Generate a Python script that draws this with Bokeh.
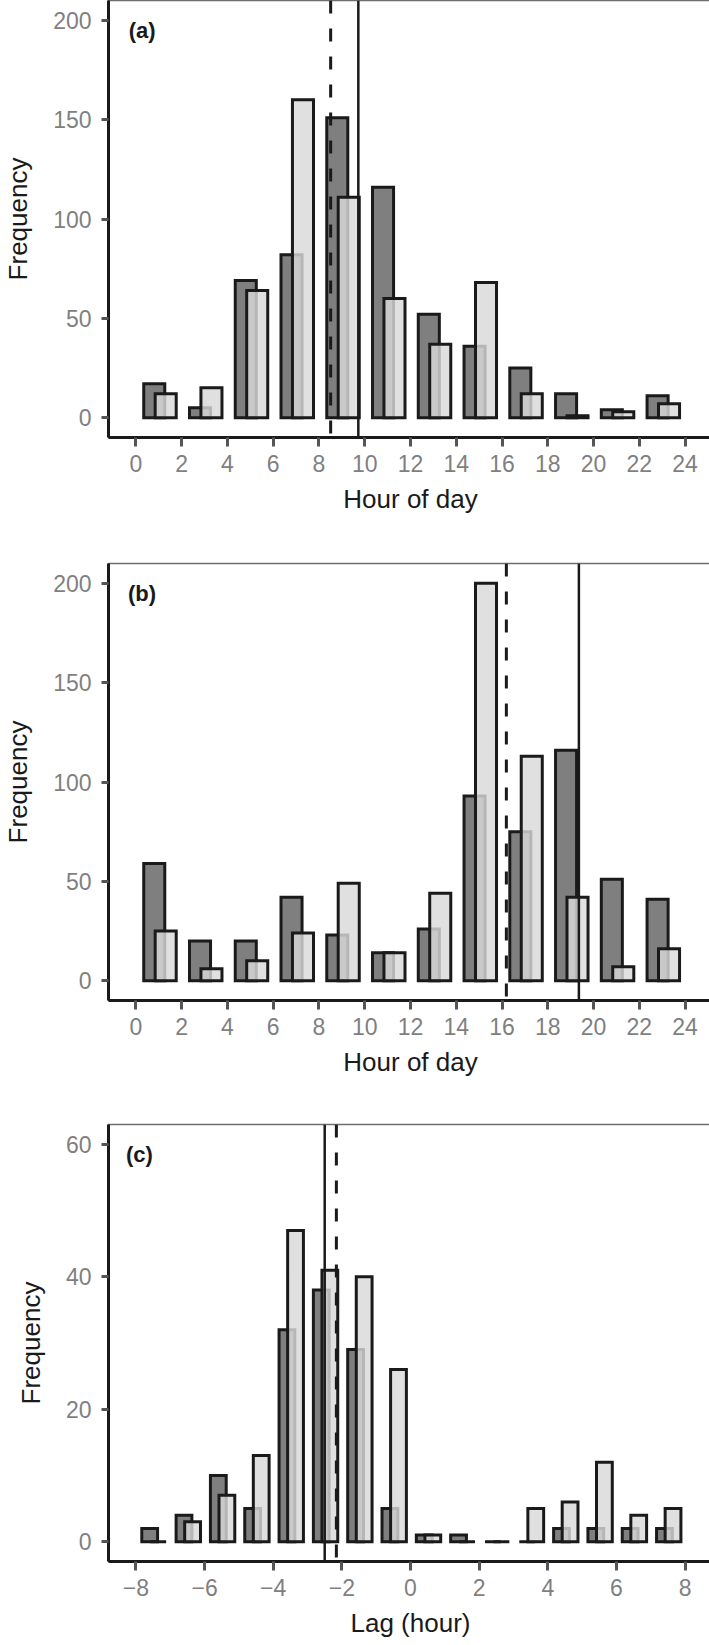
from bokeh.plotting import figure
from bokeh.layouts import column
from bokeh.models import Span, Label, FixedTicker, Range1d, ColumnDataSource
from bokeh.embed import file_html
from bokeh.resources import INLINE

# ---------------- data ----------------
hour_bins = [1, 3, 5, 7, 9, 11, 13, 15, 17, 19, 21, 23]
hour_ticks = [0, 2, 4, 6, 8, 10, 12, 14, 16, 18, 20, 22, 24]
hour_tick_labels = ["0", "2", "4", "6", "8", "10", "12", "14", "16", "18", "20", "22", "24"]

a_dark = [17, 5, 69, 82, 151, 116, 52, 36, 25, 12, 4, 11]
a_light = [12, 15, 64, 160, 111, 60, 37, 68, 12, 1, 3, 7]
a_dashed = 8.51
a_solid = 9.72

b_dark = [59, 20, 20, 42, 23, 14, 26, 93, 75, 116, 51, 41]
b_light = [25, 6, 10, 24, 49, 14, 44, 200, 113, 42, 7, 16]
b_dashed = 16.19
b_solid = 19.36

lag_bins = [-7.5, -6.5, -5.5, -4.5, -3.5, -2.5, -1.5, -0.5, 0.5, 1.5, 2.5, 3.5, 4.5, 5.5, 6.5, 7.5]
lag_ticks = [-8, -6, -4, -2, 0, 2, 4, 6, 8]
lag_tick_labels = ["\u22128", "\u22126", "\u22124", "\u22122", "0", "2", "4", "6", "8"]
c_dark = [2, 4, 10, 5, 32, 38, 29, 5, 1, 1, 0, 0, 2, 2, 2, 2]
c_light = [0, 3, 7, 13, 47, 41, 40, 26, 1, 0, 0, 5, 6, 12, 4, 5]
c_dashed = -2.16
c_solid = -2.50

freq_ticks_ab = [0, 50, 100, 150, 200]
freq_ticks_c = [0, 20, 40, 60]

FONT = "Liberation Sans"
INK = "#1a1a1a"


def panel(bins, dark, light, binw, xlim, ylim, xticks, xtick_labels, yticks,
          xlabel, tag, tag_x, tag_y, solid_x, dashed_x, top, bottom):
    p = figure(frame_width=604, frame_height=437,
               min_border_left=104, min_border_right=1,
               min_border_top=top, min_border_bottom=bottom,
               x_range=Range1d(*xlim), y_range=Range1d(*ylim),
               output_backend="svg", toolbar_location=None, tools="")
    p.grid.visible = False
    p.background_fill_color = "white"
    p.border_fill_color = "white"
    p.outline_line_color = "#6e6e6e"
    p.outline_line_width = 1.5

    w = binw * 0.46
    src = ColumnDataSource(dict(
        xd=[b + binw * (0.025 - 0.125) for b in bins],
        xl=[b + binw * (0.025 + 0.125) for b in bins],
        dark=dark, light=light))
    p.vbar(x="xd", top="dark", bottom=0, width=w, source=src,
           fill_color="#7f7f7f", line_color=INK, line_width=3, line_join="miter")
    p.vbar(x="xl", top="light", bottom=0, width=w, source=src,
           fill_color="#d9d9d9", fill_alpha=0.82, line_color=INK, line_width=3,
           line_join="miter")

    p.add_layout(Span(location=dashed_x, dimension="height", line_color=INK,
                      line_width=3, line_dash="13 15"))
    p.add_layout(Span(location=solid_x, dimension="height", line_color=INK,
                      line_width=2.5))

    p.add_layout(Label(x=tag_x, y=tag_y, text=tag, text_font=FONT,
                       text_font_style="bold", text_font_size="22px",
                       text_baseline="middle", text_align="left", text_color=INK))

    xa = p.xaxis[0]
    xa.ticker = FixedTicker(ticks=xticks)
    xa.major_label_overrides = {t: l for t, l in zip(xticks, xtick_labels)}
    ya = p.yaxis[0]
    ya.ticker = FixedTicker(ticks=yticks)
    for ax in (xa, ya):
        ax.axis_line_width = 3
        ax.axis_line_color = INK
        ax.major_tick_line_color = "#555555"
        ax.major_tick_line_width = 3
        ax.major_tick_in = 0
        ax.minor_tick_line_color = None
        ax.major_label_text_font = FONT
        ax.major_label_text_font_size = "23px"
        ax.major_label_text_color = "#7f7f7f"
        ax.axis_label_text_font = FONT
        ax.axis_label_text_font_size = "26px"
        ax.axis_label_text_font_style = "normal"
        ax.axis_label_text_color = INK
    xa.major_tick_out = 9
    xa.major_label_standoff = 8
    xa.axis_label = xlabel
    xa.axis_label_standoff = 9
    ya.major_tick_out = 7
    ya.major_label_standoff = 10
    ya.axis_label = "Frequency"
    ya.axis_label_standoff = 17
    return p


pa = panel(hour_bins, a_dark, a_light, 2, (-1.2, 25.2), (-10, 210), hour_ticks,
           hour_tick_labels, freq_ticks_ab, "Hour of day", "(a)", -0.32, 195,
           a_solid, a_dashed, 0, 103)
pb = panel(hour_bins, b_dark, b_light, 2, (-1.2, 25.2), (-10, 210), hour_ticks,
           hour_tick_labels, freq_ticks_ab, "Hour of day", "(b)", -0.35, 195,
           b_solid, b_dashed, 23, 100)
pc = panel(lag_bins, c_dark, c_light, 1, (-8.8, 8.8), (-3, 63), lag_ticks,
           lag_tick_labels, freq_ticks_c, "Lag (hour)", "(c)", -8.29, 58.5,
           c_solid, c_dashed, 24, 84)

root = column(pa, pb, pc, spacing=0)

open("out.html", "w").write(file_html(root, INLINE))
